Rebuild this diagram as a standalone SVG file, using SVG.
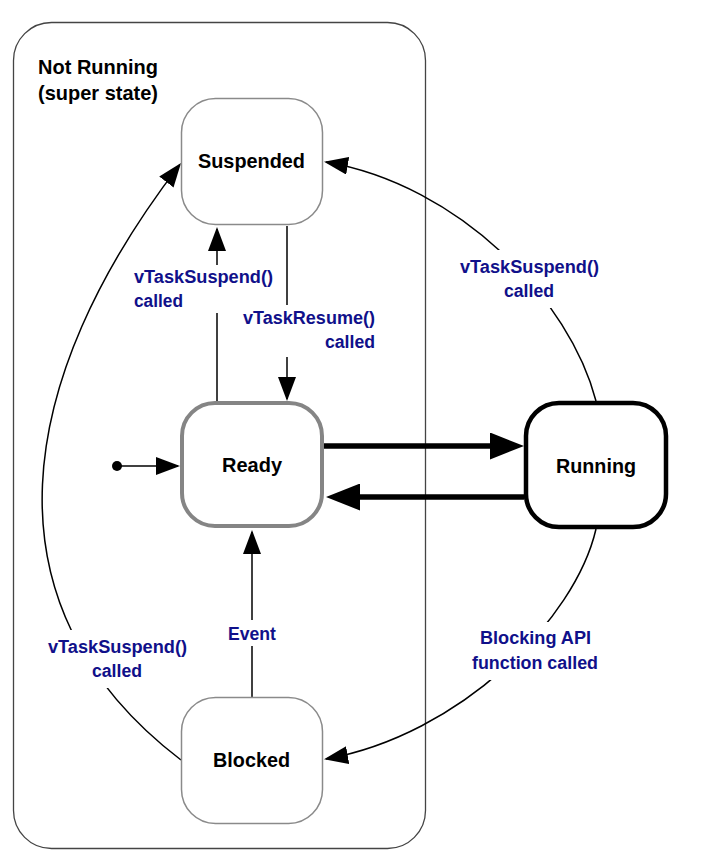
<svg xmlns="http://www.w3.org/2000/svg" width="724" height="851" viewBox="0 0 724 851">
<style>
  .state-thin { fill: #fff; stroke: #8a8a8a; stroke-width: 1.5; }
  .name { font-family: "Liberation Sans", Arial, sans-serif; font-weight: bold; font-size: 21px; fill: #000; }
  .lbl { font-family: "Liberation Sans", Arial, sans-serif; font-weight: bold; font-size: 18px; fill: #10108a; }
  .conn { fill: none; stroke: #000; stroke-width: 1.5; }
  .thick { fill: none; stroke: #000; stroke-width: 5.5; }
  .gap { fill: #fff; stroke: none; }
</style>
<defs>
  <marker id="ah" markerUnits="userSpaceOnUse" markerWidth="24" markerHeight="18" refX="22" refY="9" orient="auto">
    <path d="M0,0 L24,9 L0,18 z" fill="#000"/>
  </marker>
  <marker id="ahb" markerUnits="userSpaceOnUse" markerWidth="34" markerHeight="27" refX="26" refY="13.5" orient="auto">
    <path d="M0,0 L34,13.5 L0,27 z" fill="#000"/>
  </marker>
</defs>
<rect width="724" height="851" fill="#fff"/>

<g id="not-running">
  <rect x="13.5" y="22.5" width="412" height="826" rx="38" fill="none" stroke="#444" stroke-width="1.3"/>
  <text class="name" x="38" y="74" textLength="120" lengthAdjust="spacingAndGlyphs">Not Running</text>
  <text class="name" x="38" y="100" textLength="120" lengthAdjust="spacingAndGlyphs">(super state)</text>
</g>

<g id="connectors">
  <circle cx="117" cy="466" r="5" fill="#000"/>
  <path class="conn" d="M117,466 L178,466" marker-end="url(#ah)"/>
  <!-- Ready -> Suspended -->
  <path class="conn" d="M217,401 L217,313"/>
  <path class="conn" d="M217,265 L217,229" marker-end="url(#ah)"/>
  <!-- Suspended -> Ready -->
  <path class="conn" d="M287,226 L287,305"/>
  <path class="conn" d="M287,357 L287,399" marker-end="url(#ah)"/>
  <!-- Ready <-> Running -->
  <path class="thick" d="M324,446 L516,446" marker-end="url(#ahb)"/>
  <path class="thick" d="M524,497 L334,497" marker-end="url(#ahb)"/>
  <!-- Running -> Suspended -->
  <path class="conn" d="M596,401 C570,300 460,185 326,162" marker-end="url(#ah)"/>
  <!-- Running -> Blocked -->
  <path class="conn" d="M596,529 C575,620 460,735 326,759" marker-end="url(#ah)"/>
  <!-- Blocked -> Suspended -->
  <path class="conn" d="M181,760 C-22,605 15,379 179.8,164.6" marker-end="url(#ah)"/>
  <!-- Blocked -> Ready -->
  <path class="conn" d="M252,697 L252,646"/>
  <path class="conn" d="M252,620 L252,532" marker-end="url(#ah)"/>
</g>

<g id="labels">
  <rect class="gap" x="456" y="250" width="148" height="58"/>
  <rect class="gap" x="468" y="622" width="135" height="58"/>
  <rect class="gap" x="44" y="630" width="146" height="58"/>
  <text class="lbl" x="134" y="283" textLength="139" lengthAdjust="spacingAndGlyphs">vTaskSuspend()</text>
  <text class="lbl" x="134" y="307" textLength="49" lengthAdjust="spacingAndGlyphs">called</text>
  <text class="lbl" x="243" y="324" textLength="132" lengthAdjust="spacingAndGlyphs">vTaskResume()</text>
  <text class="lbl" x="325" y="348" textLength="50" lengthAdjust="spacingAndGlyphs">called</text>
  <text class="lbl" x="460" y="273" textLength="139" lengthAdjust="spacingAndGlyphs">vTaskSuspend()</text>
  <text class="lbl" x="504" y="297" textLength="50" lengthAdjust="spacingAndGlyphs">called</text>
  <text class="lbl" x="48" y="653" textLength="139" lengthAdjust="spacingAndGlyphs">vTaskSuspend()</text>
  <text class="lbl" x="92" y="677" textLength="50" lengthAdjust="spacingAndGlyphs">called</text>
  <text class="lbl" x="228" y="640" textLength="48" lengthAdjust="spacingAndGlyphs">Event</text>
  <text class="lbl" x="480" y="644" textLength="111" lengthAdjust="spacingAndGlyphs">Blocking API</text>
  <text class="lbl" x="472" y="669" textLength="126" lengthAdjust="spacingAndGlyphs">function called</text>
</g>

<g id="suspended">
  <rect class="state-thin" x="181.5" y="98.5" width="141" height="126" rx="34"/>
  <text class="name" x="198" y="168" textLength="107" lengthAdjust="spacingAndGlyphs">Suspended</text>
</g>
<g id="ready">
  <rect x="182" y="403" width="140" height="123" rx="33" fill="#fff" stroke="#858585" stroke-width="4"/>
  <text class="name" x="222" y="472" textLength="60" lengthAdjust="spacingAndGlyphs">Ready</text>
</g>
<g id="running">
  <rect x="526" y="403" width="140" height="124" rx="33" fill="#fff" stroke="#000" stroke-width="4.5"/>
  <text class="name" x="556" y="473" textLength="80" lengthAdjust="spacingAndGlyphs">Running</text>
</g>
<g id="blocked">
  <rect class="state-thin" x="181.5" y="697.5" width="141" height="126" rx="34"/>
  <text class="name" x="213" y="767" textLength="77" lengthAdjust="spacingAndGlyphs">Blocked</text>
</g>
</svg>
